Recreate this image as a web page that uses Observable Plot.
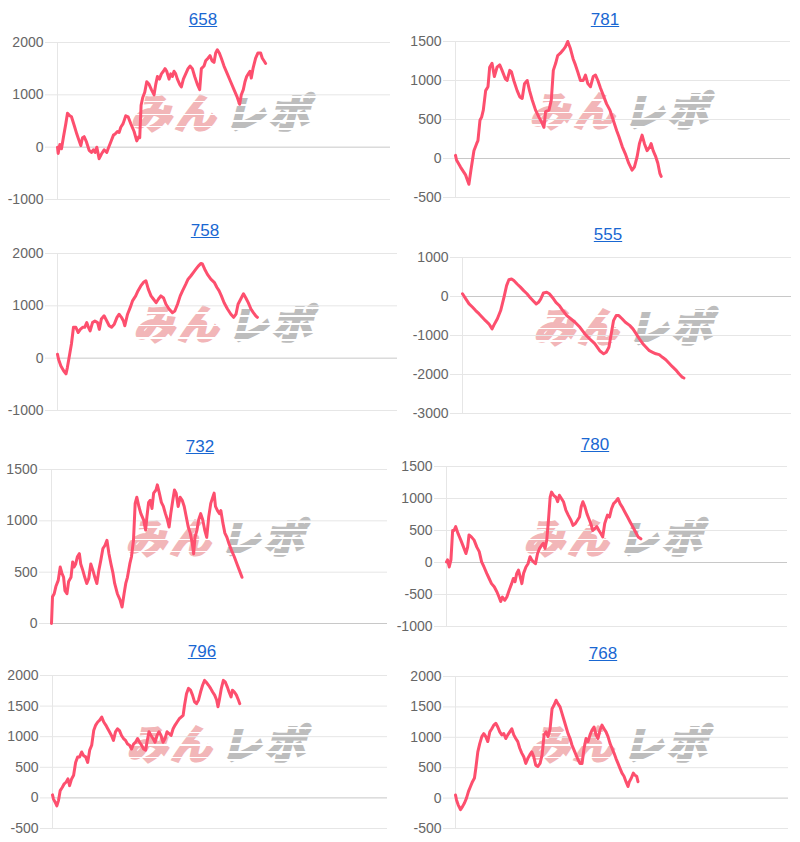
<!DOCTYPE html>
<html><head><meta charset="utf-8">
<script src="https://cdn.jsdelivr.net/npm/d3@7"></script>
<script src="https://cdn.jsdelivr.net/npm/@observablehq/plot@0.6"></script>
<style>
html,body{margin:0;padding:0;background:#fff;}
#root{position:relative;width:800px;height:842px;overflow:hidden;font-family:"Liberation Sans",Arial,sans-serif;}
.title{position:absolute;font-size:17px;line-height:20px;color:#1967d2;text-decoration:underline;transform:translateX(-50%);white-space:nowrap;}
.wm{position:absolute;transform:translate(-50%,-50%);white-space:nowrap;display:flex;gap:6px;}
.wm span{position:relative;display:inline-block;font-family:"Noto Sans CJK JP",sans-serif;font-weight:700;font-size:40px;line-height:42px;letter-spacing:4px;transform:skewX(-14deg);}
.wm .a{color:#f2b6b8;-webkit-text-stroke:3px #f2b6b8;}
.wm .b{color:#bdbdbd;-webkit-text-stroke:3px #bdbdbd;}
.wm .a::after{content:"";position:absolute;left:-4px;right:-4px;top:0;bottom:0;background:repeating-linear-gradient(180deg,rgba(255,255,255,0) 0px,rgba(255,255,255,0) 11px,#fff 11px,#fff 12.5px);}
.wm .b::after{content:"";position:absolute;left:-4px;right:-4px;top:0;bottom:0;background:repeating-linear-gradient(180deg,rgba(255,255,255,0) 0px,rgba(255,255,255,0) 6px,#fff 6px,#fff 8px);}
.chart{position:absolute;}
</style></head><body><div id="root"></div>
<script>
const titles = ["658","781","758","555","732","780","796","768"];

const ticks658 = [-1000,0,1000,2000];
const ticks781 = [-500,0,500,1000,1500];
const ticks758 = [-1000,0,1000,2000];
const ticks555 = [-3000,-2000,-1000,0,1000];
const ticks732 = [0,500,1000,1500];
const ticks780 = [-1000,-500,0,500,1000,1500];
const ticks796 = [-500,0,500,1000,1500,2000];
const ticks768 = [-500,0,500,1000,1500,2000];

const line658 = [[0,0],[0.2,-120],[0.7,50],[1.2,-30],[1.8,200],[2.5,450],[3,650],[3.7,600],[4.2,580],[5,420],[5.8,250],[6.5,120],[7,30],[7.5,180],[8,200],[8.7,100],[9.5,-60],[10.2,-100],[10.8,-50],[11.3,-100],[11.8,0],[12.5,-220],[13.2,-130],[14,-50],[14.8,-100],[15.2,-30],[16,100],[16.8,230],[17.3,250],[18,300],[18.5,280],[19,380],[19.7,450],[20.5,600],[21.2,580],[22,450],[23,300],[23.8,120],[24.4,200],[24.7,180],[25.1,800],[25.6,950],[26.2,1050],[26.8,1250],[27.5,1200],[28.2,1100],[29,1000],[29.5,1200],[30,1350],[30.6,1300],[31.2,1400],[31.8,1450],[32.3,1500],[32.8,1450],[33.5,1300],[34,1400],[34.5,1350],[35,1450],[35.5,1400],[36,1300],[36.7,1200],[37.2,1150],[37.8,1300],[38.5,1400],[39.2,1500],[39.8,1550],[40.5,1500],[41.2,1350],[42,1200],[42.7,1100],[43.2,1500],[44,1550],[44.5,1650],[45.2,1700],[45.8,1750],[46.4,1650],[47,1620],[47.5,1800],[48,1860],[48.6,1800],[49.2,1700],[50,1550],[51,1400],[52,1250],[53,1100],[54,950],[54.7,820],[55.2,1000],[55.8,1100],[56.3,1250],[56.8,1350],[57.3,1400],[57.8,1450],[58.2,1320],[58.7,1500],[59.5,1700],[60.2,1800],[61,1800],[61.5,1700],[62,1650],[62.5,1600]];

const line781 = [[0,40],[0.3,-20],[1.5,-110],[3.0,-210],[4.0,-330],[4.6,-150],[5.5,100],[6.3,190],[6.7,230],[7.3,490],[7.8,530],[8.3,620],[9.0,870],[9.7,920],[10.2,1170],[10.9,1220],[11.6,1050],[12.4,1170],[13.2,1200],[13.9,1130],[14.9,1020],[15.4,1000],[16.2,1130],[16.7,1110],[17.4,1000],[18.4,870],[19.2,790],[19.9,770],[20.6,960],[21.4,1000],[22.1,870],[22.9,750],[23.9,620],[24.9,530],[25.9,450],[26.4,400],[26.9,600],[27.9,620],[28.6,750],[29.2,1130],[29.9,1220],[30.5,1320],[31.3,1350],[32.1,1390],[32.8,1430],[33.5,1500],[34.3,1410],[35.1,1280],[35.8,1200],[36.5,1110],[37.3,1000],[38.1,1000],[38.8,1070],[39.5,960],[40.3,920],[41.1,1050],[41.8,1070],[42.5,1000],[43.3,900],[44.3,790],[45.1,700],[46.1,620],[47.1,490],[48.1,360],[48.8,280],[49.8,150],[50.7,60],[51.7,-60],[52.7,-150],[53.4,-110],[54.2,20],[54.9,190],[55.7,300],[56.4,190],[57.2,100],[58.0,150],[58.4,190],[59.0,100],[59.8,20],[60.4,-60],[61.0,-190],[61.4,-230]];

const line758 = [[0,75],[0.3,-20],[1.0,-150],[1.8,-240],[2.5,-300],[2.9,-180],[3.4,10],[4.1,270],[4.7,590],[5.4,590],[6.1,490],[6.7,550],[7.4,590],[8.0,590],[8.6,680],[9.1,590],[9.6,520],[10.3,680],[11.0,710],[11.8,680],[12.3,550],[12.9,750],[13.7,810],[14.5,710],[15.2,620],[15.9,590],[16.7,650],[17.5,780],[18.1,840],[18.8,780],[19.4,710],[19.8,620],[20.6,840],[21.4,970],[22.1,1100],[23.0,1190],[23.7,1290],[24.5,1380],[25.3,1450],[26.0,1480],[26.7,1320],[27.5,1190],[28.2,1130],[29.0,1060],[29.7,1130],[30.4,1190],[31.2,1150],[31.9,1030],[32.8,940],[33.8,870],[34.5,900],[35.3,1030],[36.1,1190],[36.8,1290],[37.7,1410],[38.4,1510],[39.2,1570],[40.0,1640],[40.7,1700],[41.4,1760],[42.2,1810],[42.6,1800],[43.3,1700],[44.1,1600],[45.1,1510],[46.1,1450],[46.9,1350],[47.5,1290],[48.2,1190],[49.0,1060],[50.0,940],[51.0,840],[51.8,780],[52.5,840],[53.1,1030],[53.9,1130],[54.7,1230],[55.4,1150],[56.1,1060],[56.9,940],[57.6,870],[58.3,810],[58.8,780]];

const line555 = [[0,70],[1.0,-60],[2.0,-190],[3.0,-270],[4.0,-360],[5.0,-440],[6.0,-530],[7.0,-620],[8.0,-700],[9.0,-830],[9.5,-740],[10.6,-570],[11.6,-360],[12.6,-20],[13.4,280],[14.1,430],[14.9,450],[15.6,410],[16.6,320],[17.6,240],[18.6,150],[19.6,70],[20.6,-30],[21.6,-120],[22.4,-190],[23.1,-150],[23.8,-60],[24.6,90],[25.6,110],[26.4,70],[27.4,-30],[28.4,-150],[29.4,-230],[30.5,-360],[31.7,-490],[32.9,-570],[34.2,-660],[35.7,-790],[37.2,-960],[38.7,-1090],[40.2,-1210],[41.7,-1390],[42.9,-1470],[43.7,-1430],[44.5,-1300],[45.2,-960],[45.9,-620],[46.7,-490],[47.5,-490],[48.5,-570],[49.5,-660],[50.8,-740],[51.8,-830],[52.8,-960],[53.8,-1090],[54.8,-1210],[55.8,-1300],[56.8,-1390],[57.8,-1430],[58.8,-1470],[59.8,-1490],[60.8,-1560],[61.8,-1620],[62.8,-1710],[63.8,-1800],[64.8,-1880],[65.8,-1980],[66.8,-2070],[67.3,-2090]];

const line732 = [[0,0],[0.3,260],[0.8,290],[1.3,360],[2.0,420],[2.6,550],[3.1,490],[3.6,450],[4.0,320],[4.6,290],[5.1,410],[5.8,450],[6.3,600],[6.7,550],[7.2,580],[7.7,650],[8.3,680],[8.7,580],[9.3,520],[9.9,450],[10.5,390],[11.1,440],[11.7,580],[12.3,520],[12.9,450],[13.5,390],[14.1,520],[14.7,620],[15.3,730],[15.9,760],[16.5,810],[17.1,680],[17.7,580],[18.3,490],[18.8,390],[19.6,290],[20.4,230],[21.0,160],[21.6,290],[22.1,390],[22.6,450],[23.3,580],[23.8,650],[24.4,810],[24.9,1170],[25.4,1230],[26.0,1140],[26.6,1070],[27.4,1010],[28.0,910],[28.4,1040],[28.9,1180],[29.4,1200],[29.9,1120],[30.4,1270],[31.1,1300],[31.5,1350],[32.1,1270],[32.7,1180],[33.3,1140],[33.9,1070],[34.5,1010],[35.0,940],[35.5,1070],[36.1,1200],[36.6,1300],[37.1,1270],[37.7,1140],[38.3,1230],[38.9,1200],[39.5,1140],[40.1,1040],[40.7,940],[41.3,880],[41.9,780],[42.3,680],[42.7,840],[43.3,910],[43.8,1010],[44.4,1070],[45.0,1010],[45.6,910],[46.2,840],[46.8,1040],[47.4,1170],[48.0,1230],[48.4,1270],[48.8,1140],[49.4,1100],[50.0,1070],[50.4,1100],[51.0,980],[51.6,880],[52.2,840],[52.8,780],[53.6,710],[54.4,650],[55.2,580],[55.9,520],[56.7,450]];

const line780 = [[0,10],[0.3,40],[0.8,-70],[1.3,40],[1.8,500],[2.2,500],[2.7,560],[3.4,450],[4.2,350],[5.0,240],[5.7,140],[6.2,240],[6.6,430],[7.3,400],[8.1,350],[8.9,240],[9.6,170],[10.3,10],[11.0,-70],[11.8,-170],[12.5,-250],[13.2,-330],[14.0,-380],[14.8,-460],[15.4,-540],[15.9,-610],[16.4,-540],[17.1,-590],[17.7,-540],[18.4,-430],[19.1,-330],[19.6,-250],[20.1,-300],[20.6,-170],[21.1,-120],[21.6,-220],[22.1,-330],[22.6,-170],[23.3,-70],[23.9,-20],[24.5,90],[25.0,40],[25.5,10],[26.1,-20],[26.7,140],[27.3,220],[27.9,270],[28.4,300],[28.9,220],[29.4,350],[29.9,660],[30.4,1020],[30.8,1100],[31.4,1050],[32.1,1020],[32.6,950],[33.1,1050],[33.7,1000],[34.3,950],[35.0,820],[35.7,740],[36.5,660],[37.1,580],[37.8,610],[38.4,660],[39.0,710],[39.5,870],[40.0,950],[40.6,870],[41.2,760],[41.7,690],[42.3,610],[42.9,500],[43.5,530],[44.1,560],[44.7,500],[45.3,450],[45.8,400],[46.4,610],[47.2,740],[47.8,710],[48.4,840],[49.0,920],[49.6,950],[50.3,1000],[50.9,920],[51.5,870],[52.3,790],[53.1,710],[53.9,630],[54.6,560],[55.4,480],[56.2,400],[57.0,370]];

const line796 = [[0,50],[0.3,-20],[0.8,-70],[1.3,-130],[1.8,-40],[2.3,120],[2.9,170],[3.5,230],[4.1,260],[4.6,310],[5.1,200],[5.7,310],[6.3,370],[6.9,580],[7.5,670],[8.1,670],[8.7,750],[9.3,690],[9.9,670],[10.5,580],[11.1,780],[11.7,860],[12.3,1100],[12.9,1190],[13.5,1240],[14.1,1270],[14.7,1320],[15.3,1240],[15.9,1190],[16.5,1130],[17.0,1080],[17.6,1020],[18.2,940],[18.8,1080],[19.4,1130],[20.0,1100],[20.6,1020],[21.2,970],[21.8,940],[22.4,880],[23.0,860],[23.6,800],[24.2,880],[24.8,910],[25.4,970],[26.0,910],[26.6,860],[27.2,800],[27.8,780],[28.2,910],[28.8,1080],[29.4,1020],[30.0,970],[30.6,910],[31.2,1020],[31.8,1080],[32.4,1020],[33.0,910],[33.6,970],[34.2,1080],[34.8,1050],[35.4,1020],[36.0,1130],[36.6,1190],[37.2,1240],[37.8,1290],[38.4,1320],[39.0,1350],[39.4,1510],[40.0,1700],[40.6,1790],[41.2,1760],[41.8,1680],[42.4,1570],[43.0,1540],[43.6,1600],[44.2,1730],[44.8,1840],[45.4,1920],[45.9,1890],[46.6,1840],[47.2,1790],[47.8,1730],[48.4,1680],[49.0,1600],[49.4,1490],[49.8,1600],[50.4,1790],[51.0,1920],[51.6,1890],[52.2,1810],[52.7,1730],[53.3,1650],[53.7,1760],[54.3,1730],[54.9,1680],[55.5,1600],[55.9,1540]];

const line768 = [[0,50],[0.3,-30],[0.8,-110],[1.5,-190],[2.1,-140],[2.7,-80],[3.3,0],[3.9,110],[4.5,190],[5.1,270],[5.7,330],[6.1,490],[6.7,760],[7.3,900],[7.9,1010],[8.5,1060],[9.1,1010],[9.7,930],[10.3,1090],[10.9,1140],[11.5,1200],[12.1,1230],[12.7,1170],[13.3,1090],[13.9,1040],[14.5,1060],[15.1,980],[15.7,1040],[16.3,1090],[16.9,1140],[17.5,1040],[18.1,980],[18.7,930],[19.3,820],[19.9,740],[20.5,680],[21.1,570],[21.7,650],[22.3,710],[22.9,760],[23.5,680],[24.1,540],[24.7,520],[25.4,570],[26.0,710],[26.6,1040],[27.2,1090],[27.8,1010],[28.4,1140],[29.0,1470],[29.6,1530],[30.2,1610],[30.8,1550],[31.4,1500],[32.0,1390],[32.6,1280],[33.2,1170],[33.8,1060],[34.4,980],[35.0,870],[35.6,790],[36.2,710],[36.8,630],[37.4,570],[38.0,570],[38.6,820],[39.2,980],[39.8,930],[40.4,1040],[41.0,1120],[41.6,1170],[42.2,1040],[42.8,980],[43.4,1120],[44.0,1200],[44.6,1140],[45.2,1090],[45.8,1010],[46.4,900],[47.0,820],[47.6,740],[48.2,650],[48.8,570],[49.4,490],[50.0,410],[50.6,360],[51.2,270],[51.8,190],[52.2,270],[52.8,330],[53.4,410],[53.8,380],[54.4,360],[54.8,270]];

const xRange = [0, 100];

// layout (page pixels) for each panel's plot area and title
const panels = [
  {title:titles[0], data:line658, ticks:ticks658, L:57,  R:390, T:42,  B:199, tx:203, ty:26},
  {title:titles[1], data:line781, ticks:ticks781, L:455, R:790, T:41,  B:197, tx:605, ty:26},
  {title:titles[2], data:line758, ticks:ticks758, L:57,  R:397, T:253, B:410, tx:205, ty:237},
  {title:titles[3], data:line555, ticks:ticks555, L:462, R:791, T:257, B:413, tx:608, ty:241},
  {title:titles[4], data:line732, ticks:ticks732, L:51,  R:387, T:469, B:623, tx:200, ty:453},
  {title:titles[5], data:line780, ticks:ticks780, L:446, R:787, T:466, B:626, tx:595, ty:451},
  {title:titles[6], data:line796, ticks:ticks796, L:52,  R:387, T:675, B:828, tx:202, ty:658},
  {title:titles[7], data:line768, ticks:ticks768, L:455, R:788, T:676, B:828, tx:603, ty:660}
];

const root = document.getElementById("root");
const ML = 50, MR = 4, MT = 4, MB = 4;

for (const p of panels) {
  // watermark (behind the chart)
  const wm = document.createElement("div");
  wm.className = "wm";
  wm.style.left = ((p.L + p.R) / 2 + 2) + "px";
  wm.style.top = ((p.T + p.B) / 2 - 10) + "px";
  wm.innerHTML = '<span class="a">みん</span><span class="b">レポ</span>';
  root.appendChild(wm);

  const w = p.R - p.L + ML + MR;
  const h = p.B - p.T + MT + MB;
  const svg = Plot.plot({
    width: w, height: h,
    marginLeft: ML, marginRight: MR, marginTop: MT, marginBottom: MB,
    style: {background: "transparent", overflow: "visible", fontFamily: '"Liberation Sans", Arial, sans-serif', fontSize: "14px"},
    x: {domain: xRange, axis: null},
    y: {domain: d3.extent(p.ticks), axis: null},
    marks: [
      Plot.ruleY(p.ticks.filter(t => t !== 0), {stroke: "#e6e6e6"}),
      Plot.ruleY(p.ticks.filter(t => t === 0), {stroke: "#c8c8c8"}),
      Plot.ruleX([xRange[0]], {stroke: "#e6e6e6"}),
      Plot.axisY(p.ticks, {tickSize: 12, tickPadding: 2, stroke: "#e6e6e6", fill: "#666", fontSize: 14, tickFormat: d => String(d), label: null}),
      Plot.line(p.data, {x: d => d[0], y: d => d[1], stroke: "#fd4f6e", strokeWidth: 3, strokeLinejoin: "round", strokeLinecap: "round"})
    ]
  });
  svg.classList.add("chart");
  svg.style.left = (p.L - ML) + "px";
  svg.style.top = (p.T - MT) + "px";
  svg.style.position = "absolute";
  root.appendChild(svg);

  const t = document.createElement("div");
  t.className = "title";
  t.textContent = p.title;
  t.style.left = p.tx + "px";
  t.style.top = (p.ty - 15.6) + "px";
  root.appendChild(t);
}
</script>
</body></html>
